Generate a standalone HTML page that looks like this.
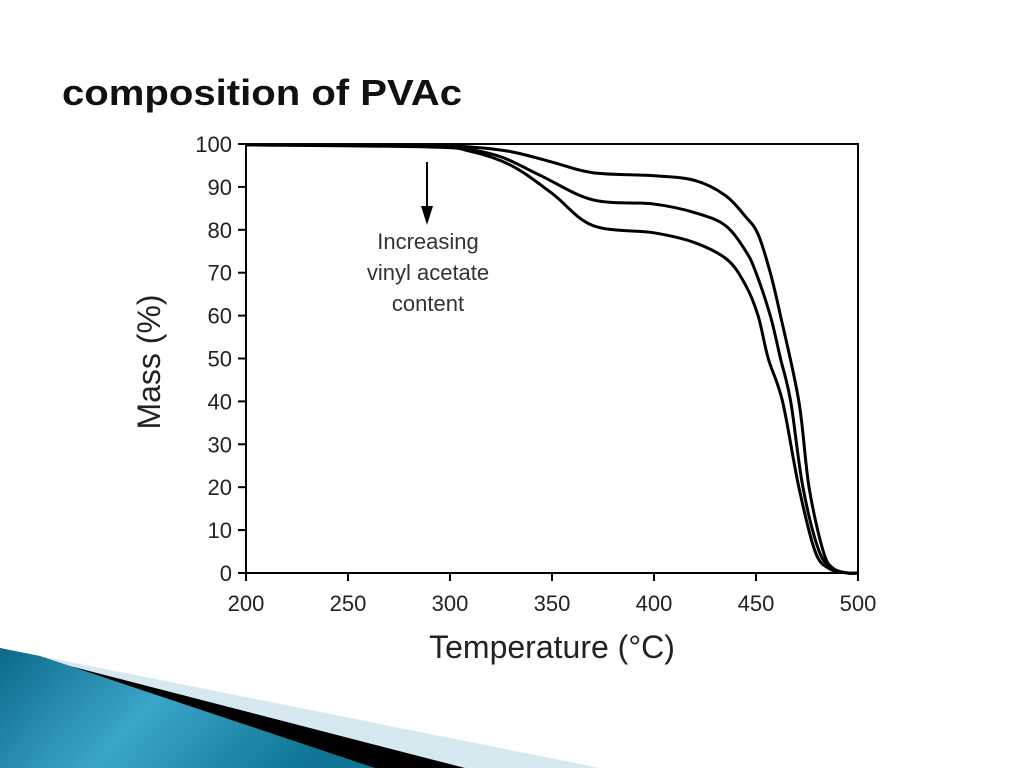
<!DOCTYPE html>
<html><head><meta charset="utf-8"><style>
html,body{margin:0;padding:0;background:#fff;}
svg{display:block;font-family:"Liberation Sans",sans-serif;}
</style></head><body>
<svg width="1024" height="768" viewBox="0 0 1024 768">
<defs>
<linearGradient id="bl" x1="0" y1="0" x2="1" y2="0.3">
<stop offset="0" stop-color="#0d6a8a"/><stop offset="0.5" stop-color="#3aa6c8"/><stop offset="1" stop-color="#0f7696"/>
</linearGradient>
</defs>
<polygon points="0,648 600,768 0,768" fill="#d6e8f0"/>
<polygon points="0,648 465,768 0,768" fill="#000"/>
<polygon points="0,648 40,656 375,768 0,768" fill="url(#bl)"/>
<text x="62" y="105" font-size="36" font-weight="bold" textLength="400" lengthAdjust="spacingAndGlyphs" fill="#111">composition of PVAc</text>
<g id="chart"></g>
</svg>
<script>
const xTicks=[200,250,300,350,400,450,500];
const yTicks=[0,10,20,30,40,50,60,70,80,90,100];
const tempA=[200,290,310,330,350,370,400,420,435,445,451,457,462,471,476,483,488,495,500];
const massA=[99.8,99.6,99.3,98.2,95.8,93.3,92.6,91.5,88,83,79,70,60,40,20,5,1,0,0];
const tempB=[200,290,305,325,345,370,400,420,435,445,450,457,462,467,473,481,488,495,500];
const massB=[99.8,99.5,99.1,97,92.5,87,86,84,81,75,70,60,50,40,20,5,1,0,0];
const tempC=[200,290,310,330,350,370,400,420,436,445,451,456,463,471,479,486,495,500];
const massC=[99.8,99.3,98.3,95,88.5,81,79.3,77,73,67,60,50,40,20,5,1,0,0];
const NS='http://www.w3.org/2000/svg';
const g=document.getElementById('chart');
const X0=246,X1=858,Y0=573,Y1=144;
const xs=t=>X0+(t-200)*(X1-X0)/300;
const ys=m=>Y0-m*(Y0-Y1)/100;
function el(tag,attrs,parent){const e=document.createElementNS(NS,tag);for(const k in attrs)e.setAttribute(k,attrs[k]);(parent||g).appendChild(e);return e;}
let f=el('rect',{x:X0,y:Y1,width:X1-X0,height:Y0-Y1,fill:'none',stroke:'#000','stroke-width':2});


xTicks.forEach(t=>{
 let l=el('line',{x1:xs(t),x2:xs(t),y1:Y0,y2:Y0+8,stroke:'#000','stroke-width':2});
 
 
 let tx=el('text',{x:xs(t),y:Y0+38,'font-size':22,'text-anchor':'middle',fill:'#222'});
 tx.textContent=t;
 
 
});
yTicks.forEach(m=>{
 let l=el('line',{x1:X0-8,x2:X0,y1:ys(m),y2:ys(m),stroke:'#000','stroke-width':2});
 
 
 let tx=el('text',{x:X0-14,y:ys(m)+8,'font-size':22,'text-anchor':'end',fill:'#222'});
 tx.textContent=m;
 
 
});
function pathFor(T,M){
 const p=T.map((t,i)=>[xs(t),ys(M[i])]);
 let d='M'+p[0][0]+','+p[0][1];
 for(let i=0;i<p.length-1;i++){
  const a=p[i-1]||p[i],b=p[i],c=p[i+1],e=p[i+2]||c;
  const c1=[b[0]+(c[0]-a[0])/6,b[1]+(c[1]-a[1])/6],c2=[c[0]-(e[0]-b[0])/6,c[1]-(e[1]-b[1])/6];
  d+=' C'+c1+' '+c2+' '+c;
 }
 return d;
}
[[tempA,massA,'series-low-va'],[tempB,massB,'series-mid-va'],[tempC,massC,'series-high-va']].forEach(s=>{
 let p=el('path',{d:pathFor(s[0],s[1]),fill:'none',stroke:'#000','stroke-width':3});
 
 
});
let ar=el('line',{x1:427,x2:427,y1:162,y2:214,stroke:'#000','stroke-width':2});


let ah=el('polygon',{points:'421,206 433,206 427,225',fill:'#000'});


['Increasing','vinyl acetate','content'].forEach((s,i)=>{
 let t=el('text',{x:428,y:249+i*31,'font-size':22,'text-anchor':'middle',fill:'#333'});
 t.textContent=s;
 
 
});
let xl=el('text',{x:552,y:658,'font-size':32,'text-anchor':'middle',fill:'#222'});
xl.textContent='Temperature (°C)';


let yl=el('text',{x:0,y:0,'font-size':32,'text-anchor':'middle',fill:'#222',transform:'translate(160,362) rotate(-90)'});
yl.textContent='Mass (%)';


</script>
</body></html>
